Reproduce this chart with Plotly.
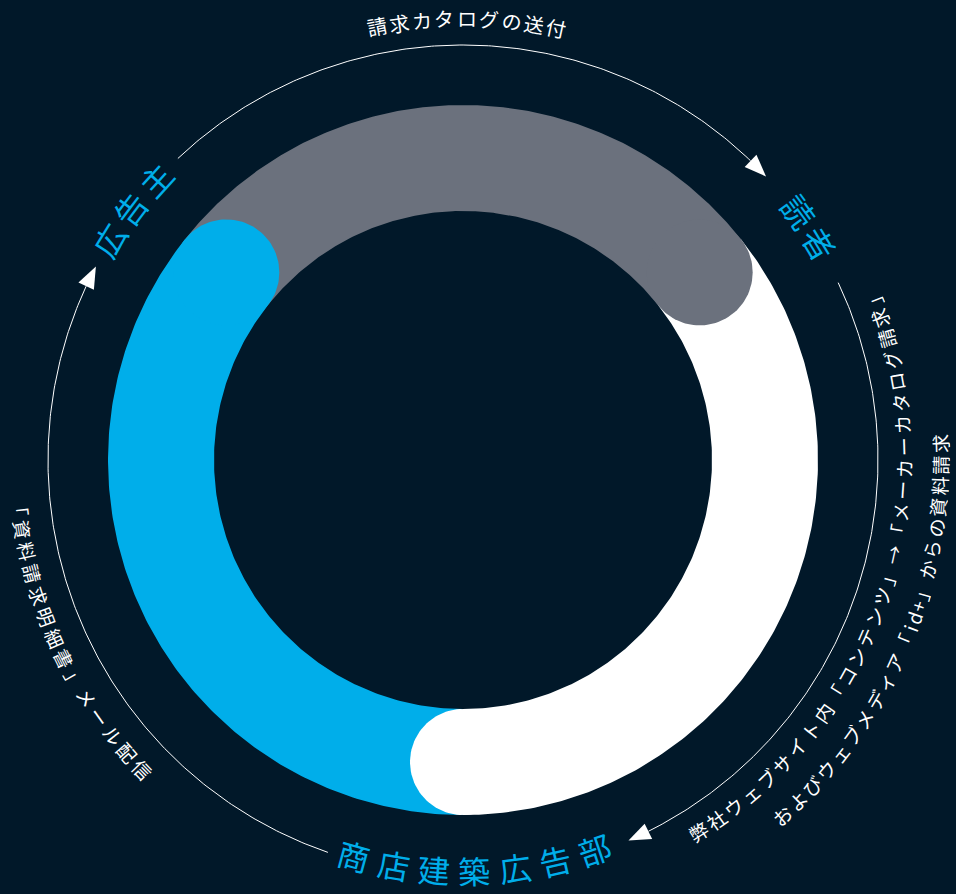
import numpy as np
import plotly.graph_objects as go

# ---------------- data ----------------
# ring segments (degrees, math convention, drawn clockwise from start to end)
segment_names = ["広告主→読者", "読者→商店建築広告部", "商店建築広告部→広告主"]
segment_start_deg = [141.6, 38.4, 270.0]
segment_end_deg = [38.4, -90.0, 141.6]

# thin flow arrows on the outer circle (clockwise, arrow at the end)
flow_start_deg = [133.4, 25.3, 251.0]
flow_end_deg = [43.1, -66.5, 152.2]

# labels placed along circles: text, first-char angle, last-char angle, radius, clockwise?
label_texts = [
    "請求カタログの送付",
    "広告主",
    "読者",
    "商店建築広告部",
    "弊社ウェブサイト内「コンテンツ」→「メーカーカタログ請求」",
    "およびウェブメディア「id+」からの資料請求",
    "「資料請求明細書」メール配信",
]
label_first_deg = [101.2, 148.2, 36.5, 254.6, -57.7, -48.1, 186.0]
label_last_deg = [77.8, 137.6, 31.3, 288.6, 21.6, 2.0, 224.0]
label_radius = [442, 417, 418, 410, 440, 477, 445]
label_clockwise = [True, True, True, False, False, False, False]
label_kind = ["top", "big", "big", "big", "small", "small", "small"]

# ---------------- style ----------------
W, H = 956, 894
CX, CY = 463, 894 - 460
R_IN, R_OUT = 249, 355
R_FLOW = 415
BG = "#011829"
SEG_COLORS = ["#6B717D", "#FFFFFF", "#00AEEA"]
BLUE = "#00AEEA"
FONT = "Noto Sans CJK JP"
KIND_STYLE = {"small": (19, "#FFFFFF"), "top": (20, "#FFFFFF"), "big": (32, BLUE)}


def pt(r, deg):
    a = np.radians(deg)
    return CX + r * np.cos(a), CY + r * np.sin(a)


fig = go.Figure()


def poly(xs, ys, color):
    fig.add_trace(go.Scatter(x=xs, y=ys, mode="lines", fill="toself",
                             fillcolor=color, line=dict(width=0, color=color),
                             hoverinfo="skip", showlegend=False))


# segment bodies
for s, e, c in zip(segment_start_deg, segment_end_deg, SEG_COLORS):
    ang = np.linspace(s, e, 200)
    xo, yo = pt(R_OUT, ang)
    xi, yi = pt(R_IN, ang[::-1])
    poly(np.concatenate([xo, xi, xo[:1]]), np.concatenate([yo, yi, yo[:1]]), c)

# rounded caps at the clockwise end of each segment
r_mid = (R_IN + R_OUT) / 2
r_cap = (R_OUT - R_IN) / 2
for e, c in zip(segment_end_deg, SEG_COLORS):
    mx, my = pt(r_mid, e)
    t = np.linspace(0, 2 * np.pi, 120)
    poly(mx + r_cap * np.cos(t), my + r_cap * np.sin(t), c)

# flow arcs with arrowheads
AL, AW = 22, 8.5
for s, e in zip(flow_start_deg, flow_end_deg):
    base = e + np.degrees(AL / R_FLOW)
    ang = np.linspace(s, base, 200)
    x, y = pt(R_FLOW, ang)
    fig.add_trace(go.Scatter(x=x, y=y, mode="lines", line=dict(color="#FFFFFF", width=1),
                             hoverinfo="skip", showlegend=False))
    tx, ty = pt(R_FLOW, e)
    b1x, b1y = pt(R_FLOW + AW, base)
    b2x, b2y = pt(R_FLOW - AW, base)
    poly([tx, b1x, b2x, tx], [ty, b1y, b2y, ty], "#FFFFFF")

# curved labels, one annotation per character
annotations = []
for i, text in enumerate(label_texts):
    chars = list(text)
    w = np.array([0.55 if ord(ch) < 128 else 1.0 for ch in chars])
    centers = np.cumsum(w) - w / 2
    frac = (centers - centers[0]) / (centers[-1] - centers[0])
    size, color = KIND_STYLE[label_kind[i]]
    for ch, f in zip(chars, frac):
        th = label_first_deg[i] + f * (label_last_deg[i] - label_first_deg[i])
        x, y = pt(label_radius[i], th)
        rot = (90 - th) if label_clockwise[i] else (270 - th)
        rot = (rot + 180) % 360 - 180
        annotations.append(dict(x=x, y=y, xref="x", yref="y", text=ch, showarrow=False,
                                textangle=rot, xanchor="center", yanchor="middle",
                                borderpad=0, height=size + 2, valign="middle",
                                font=dict(family=FONT, size=size, color=color)))

fig.update_layout(
    width=W, height=H, margin=dict(l=0, r=0, t=0, b=0),
    paper_bgcolor=BG, plot_bgcolor=BG,
    xaxis=dict(range=[0, W], visible=False, fixedrange=True),
    yaxis=dict(range=[0, H], visible=False, fixedrange=True),
    annotations=annotations, showlegend=False,
)
fig.write_html(
    "out.html",
    config={"displayModeBar": False},
    post_script="document.body.style.margin='0';document.body.style.overflow='hidden';"
                "document.body.style.background='" + BG + "';",
)
